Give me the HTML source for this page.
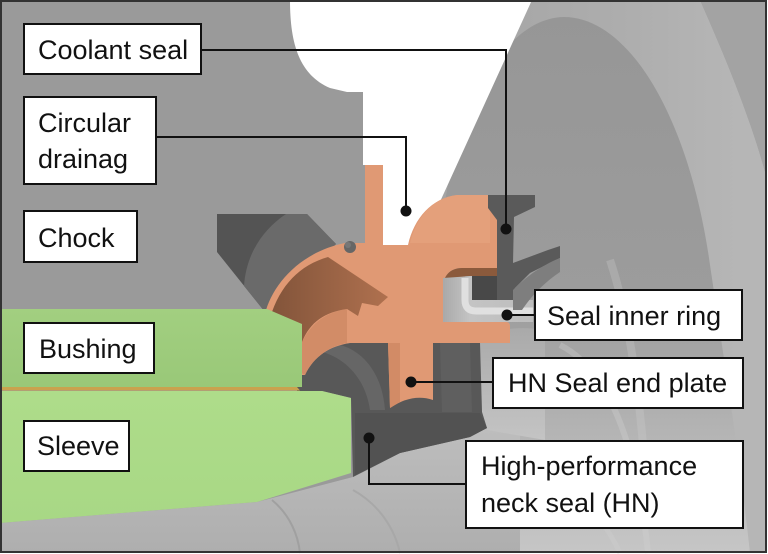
<!DOCTYPE html>
<html><head><meta charset="utf-8"><style>
html,body{margin:0;padding:0;background:#fff;}
svg{display:block;}
text{font-family:"Liberation Sans",Arial,sans-serif;font-size:27px;fill:#111;}
</style></head><body>
<svg width="768" height="554" viewBox="0 0 768 554" xmlns="http://www.w3.org/2000/svg">
<defs>
<linearGradient id="discOuter" x1="440" y1="0" x2="740" y2="0" gradientUnits="userSpaceOnUse">
<stop offset="0" stop-color="#a4a4a4"/><stop offset="0.6" stop-color="#adadad"/><stop offset="1" stop-color="#b6b6b6"/>
</linearGradient>
<linearGradient id="discInner" x1="0" y1="0" x2="0" y2="554" gradientUnits="userSpaceOnUse">
<stop offset="0" stop-color="#969696"/><stop offset="0.55" stop-color="#9c9c9c"/><stop offset="0.8" stop-color="#b6b6b6"/><stop offset="1" stop-color="#c6c6c6"/>
</linearGradient>
<linearGradient id="shaft" x1="0" y1="430" x2="0" y2="554" gradientUnits="userSpaceOnUse">
<stop offset="0" stop-color="#bdbdbd"/><stop offset="1" stop-color="#aeaeae"/>
</linearGradient>
<linearGradient id="patch" x1="0" y1="330" x2="0" y2="440" gradientUnits="userSpaceOnUse">
<stop offset="0" stop-color="#aaaaaa"/><stop offset="1" stop-color="#c4c4c4"/>
</linearGradient>
<linearGradient id="brown" x1="270" y1="0" x2="390" y2="0" gradientUnits="userSpaceOnUse">
<stop offset="0" stop-color="#82543a"/><stop offset="1" stop-color="#b0714f"/>
</linearGradient>
<linearGradient id="bush" x1="0" y1="309" x2="0" y2="388" gradientUnits="userSpaceOnUse">
<stop offset="0" stop-color="#a2cf80"/><stop offset="1" stop-color="#99c878"/>
</linearGradient>
<linearGradient id="sleeve" x1="0" y1="391" x2="0" y2="523" gradientUnits="userSpaceOnUse">
<stop offset="0" stop-color="#aedc8a"/><stop offset="1" stop-color="#a8d885"/>
</linearGradient>
<linearGradient id="ring" x1="443" y1="0" x2="533" y2="0" gradientUnits="userSpaceOnUse">
<stop offset="0" stop-color="#a9a9a9"/><stop offset="0.3" stop-color="#c4c4c4"/><stop offset="1" stop-color="#bdbdbd"/>
</linearGradient>
</defs>

<!-- base -->
<rect x="0" y="0" width="768" height="554" fill="#ffffff"/>
<rect x="0" y="0" width="767" height="553" fill="#9a9a9a"/>

<!-- right disc -->
<path d="M532,0 L700,0 C722,50 748,110 766,175 L766,553 L400,553 L420,245 L444,193 Z" fill="url(#discOuter)"/>
<path d="M700,0 L766,0 L766,175 C748,110 722,50 700,0 Z" fill="#a3a3a3"/>
<path d="M444,210 C455,120 500,18 564,17 C630,17 690,120 710,265 C724,360 740,460 750,553 L420,553 L420,245 Z" fill="url(#discInner)"/>
<path d="M560,345 C600,365 635,425 648,553" stroke="#d2d2d2" stroke-width="6" fill="none" opacity="0.35"/>
<path d="M610,260 C630,320 640,400 645,470" stroke="#cdcdcd" stroke-width="8" fill="none" opacity="0.3"/>
<path d="M500,450 C560,470 600,510 620,553" stroke="#cfcfcf" stroke-width="5" fill="none" opacity="0.3"/>

<!-- white opening -->
<path d="M290,0 L532,0 L444,193 L420,245 L383,245 L383,165 L363,165 L363,92 L347,92 L330,88 C300,75 290,45 290,0 Z" fill="#ffffff"/>

<!-- shaft bottom -->
<path d="M0,523 L257,502 L353,477 L400,453 L487,428 L520,432 L520,553 L0,553 Z" fill="url(#shaft)"/>
<path d="M272,500 C290,515 298,535 300,553" stroke="#a0a0a0" stroke-width="2" fill="none"/>
<path d="M353,490 C380,505 395,530 400,553" stroke="#a8a8a8" stroke-width="2" fill="none"/>

<!-- lighter patch between lower seal and end plate box -->
<path d="M480,338 C500,328 520,326 545,330 L545,440 L487,430 L482,412 Z" fill="url(#patch)"/>

<!-- chock dark insert -->
<path d="M217,214 L307,214 L336,244 L265,312 L217,252 Z" fill="#545454"/>
<path d="M286,214 L307,214 L336,244 L265,312 L244,286 C246,255 262,230 286,214 Z" fill="#6a6a6a"/>

<!-- lower HN seal (dark) -->
<path d="M297,372 L305,360 C315,350 330,345 350,343 L480,343 L482,412 L487,428 L470,437 L400,453 L353,477 L351,398 L322,391 L297,391 Z" fill="#585858"/>
<path d="M310,350 C340,352 365,375 370,410 L385,410 C382,370 360,350 340,345 Z" fill="#666666"/>
<path d="M440,343 L470,343 L472,412 L442,412 Z" fill="#5f5f5f"/>
<path d="M355,413 L480,413 L487,428 L470,437 L400,453 L355,475 Z" fill="#525252"/>

<!-- orange body -->
<path d="M265,314 C272,285 300,252 345,243 L365,243 L365,165 L383,165 L383,245 L408,245 C414,218 432,198 457,195 L497,195 L497,268 L462,268 C450,268 443,276 443,288 L443,322 L506,322 Q510,322 510,326 L510,343 L433,343 L433,400 Q412,393 390,408 L388,343 L350,343 C330,346 314,356 305,375 L290,375 Z" fill="#e09974"/>
<path d="M410,243 C416,218 432,198 457,195 L490,195 L490,243 Z" fill="#e4a07b"/>
<path d="M388,343 L400,343 L400,402 L390,408 Z" fill="#d28b66"/>
<!-- darker lower ring face -->
<path d="M302,342 C312,322 327,312 347,309 L347,343 C330,346 314,356 305,375 L300,372 Z" fill="#d28c67"/>
<!-- dark interior -->
<path d="M270,318 C280,285 300,265 328,257 L388,297 L378,306 L362,303 L358,316 L347,309 C325,312 310,322 302,342 L290,340 Z" fill="url(#brown)"/>
<!-- o-ring -->
<circle cx="350" cy="247" r="6" fill="#666"/>
<circle cx="348" cy="245" r="3" fill="#777"/>
<!-- notch shadow -->
<path d="M443,288 C443,276 450,268 462,268 L497,268 L497,276 L470,276 C458,276 450,282 448,290 Z" fill="#8b5a3c"/>

<!-- seal inner ring -->
<path d="M443,278 L472,276 L472,300 L533,300 L533,322 L443,322 Z" fill="url(#ring)"/>
<rect x="472" y="276" width="40" height="24" fill="#484848"/>
<path d="M465,278 L465,300 Q465,311 476,311 L533,311" stroke="#e0e0e0" stroke-width="7" fill="none"/>

<!-- coolant seal -->
<path d="M488,195 L535,195 L535,207 L514,217 L513,263 L548,250 L560,246 L560,258 L530,273 L515,288 L513,300 L497,300 L497,220 L488,208 Z" fill="#5a5a5a"/>
<path d="M513,290 C525,278 540,266 560,258 L560,272 C545,282 532,295 522,310 L513,310 Z" fill="#7e7e7e"/>

<!-- bushing -->
<path d="M0,309 L267,309 L302,324 L302,387 L0,387 Z" fill="url(#bush)"/>
<path d="M0,387 L297,387 L300,390.5 L0,390.5 Z" fill="#c9a24e"/>
<!-- sleeve -->
<path d="M0,391 L322,391 L351,398 L351,473 L257,502 L0,523 Z" fill="url(#sleeve)"/>

<!-- connectors -->
<g stroke="#111" stroke-width="2" fill="none">
<path d="M201,50 H506 V229"/>
<path d="M156,137 H406 V211"/>
<path d="M507,315 H535"/>
<path d="M411,382 H493"/>
<path d="M369,438 V484 H466"/>
</g>
<g fill="#111">
<circle cx="506" cy="229" r="5.5"/>
<circle cx="406" cy="211" r="5.5"/>
<circle cx="507" cy="315" r="5.5"/>
<circle cx="411" cy="382" r="5.5"/>
<circle cx="369" cy="438" r="5.5"/>
</g>

<!-- label boxes -->
<g fill="#fff" stroke="#111" stroke-width="2">
<rect x="24" y="24" width="177" height="50"/>
<rect x="24" y="97" width="132" height="87"/>
<rect x="24" y="211" width="113" height="51"/>
<rect x="24" y="323" width="130" height="50"/>
<rect x="24" y="421" width="105" height="50"/>
<rect x="535" y="290" width="207" height="50"/>
<rect x="493" y="358" width="250" height="50"/>
<rect x="466" y="441" width="277" height="87"/>
</g>
<text x="38" y="59">Coolant seal</text>
<text x="38" y="132">Circular</text>
<text x="38" y="168">drainag</text>
<text x="38" y="247">Chock</text>
<text x="39" y="358">Bushing</text>
<text x="37" y="455">Sleeve</text>
<text x="547" y="325">Seal inner ring</text>
<text x="508" y="392">HN Seal end plate</text>
<text x="481" y="475">High-performance</text>
<text x="481" y="512">neck seal (HN)</text>

<!-- frame -->
<rect x="1" y="1" width="765" height="551" fill="none" stroke="#333" stroke-width="2"/>
</svg>
</body></html>
